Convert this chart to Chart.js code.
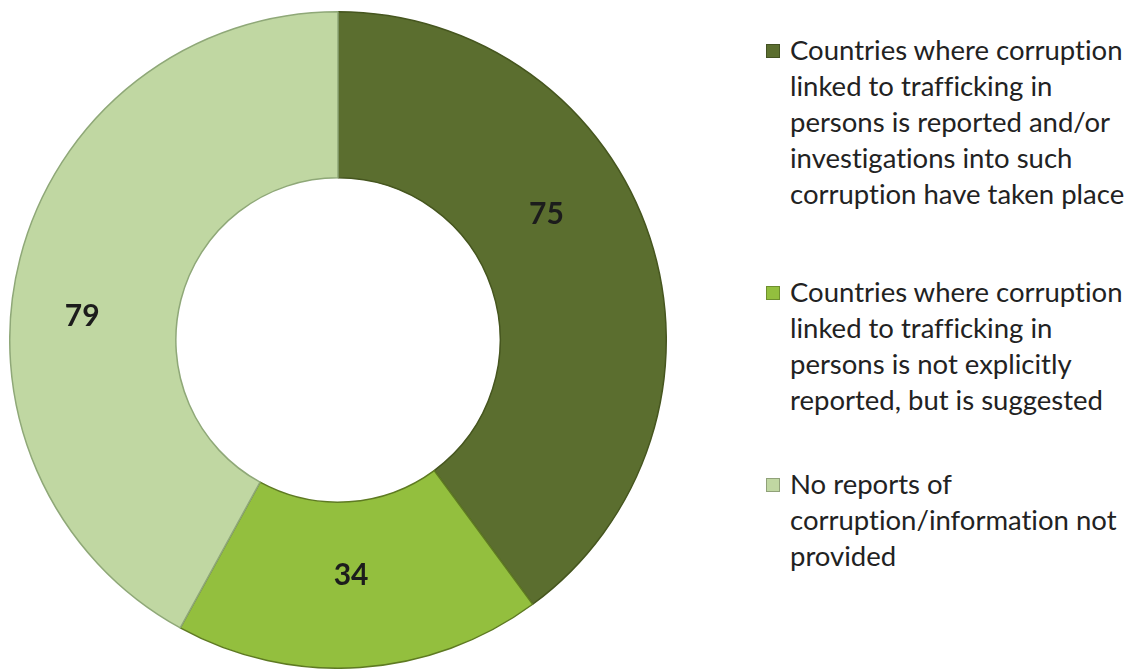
<!DOCTYPE html>
<html>
<head>
<meta charset="utf-8">
<script src="https://cdn.jsdelivr.net/npm/chart.js@4.4.1/dist/chart.umd.min.js"></script>
<style>
  html, body { margin: 0; padding: 0; background: #ffffff; }
  body { width: 1128px; height: 671px; position: relative; overflow: hidden; }
  #wrap { position: absolute; left: 9px; top: 11px; width: 658px; height: 658px; }
  #legend { position: absolute; left: 766px; top: 0; width: 362px; font-family: Lato, "Noto Sans", sans-serif; font-size: 27.5px; color: #222; font-variant-ligatures: none; }
  .item { position: absolute; left: 0; width: 362px; }
  .box { position: absolute; left: 0; width: 14px; height: 14px; box-sizing: border-box; border: 1px solid rgba(0,0,0,0.25); }
  .txt { position: absolute; left: 24px; white-space: pre; line-height: 36px; }
</style>
</head>
<body>
<div id="wrap"><canvas id="c"></canvas></div>
<div id="legend"></div>
<script>
const categories = [
  "Countries where corruption\nlinked to trafficking in\npersons is reported and/or\ninvestigations into such\ncorruption have taken place",
  "Countries where corruption\nlinked to trafficking in\npersons is not explicitly\nreported, but is suggested",
  "No reports of\ncorruption/information not\nprovided"
];
const values = [75, 34, 79];
const colors = ["#5b6e2f", "#93bf3e", "#c0d7a2"];
const borders = ["#46561f", "#5e7a22", "#8fa878"];

// label placement within each arc (fraction of angle span, fraction of ring thickness)
const labelAngleFrac = [0.41, 0.51, 0.44];
const labelRadiusFrac = [0.49, 0.44, 0.57];

const labelPlugin = {
  id: 'arcLabels',
  afterDatasetsDraw(chart) {
    const ctx = chart.ctx;
    const meta = chart.getDatasetMeta(0);
    ctx.save();
    ctx.font = 'bold 30px Lato, "Noto Sans", sans-serif';
    ctx.fillStyle = '#1c1c1c';
    ctx.textAlign = 'center';
    ctx.textBaseline = 'middle';
    meta.data.forEach((arc, i) => {
      const p = arc.getProps(['x','y','startAngle','endAngle','innerRadius','outerRadius'], true);
      const a = p.startAngle + (p.endAngle - p.startAngle) * labelAngleFrac[i];
      const r = p.innerRadius + (p.outerRadius - p.innerRadius) * labelRadiusFrac[i];
      ctx.fillText(String(values[i]), p.x + Math.cos(a) * r, p.y + Math.sin(a) * r);
    });
    ctx.restore();
  }
};

new Chart(document.getElementById('c'), {
  type: 'doughnut',
  data: {
    labels: categories,
    datasets: [{
      data: values,
      backgroundColor: colors,
      borderColor: borders,
      borderWidth: 1.5,
      borderAlign: 'center'
    }]
  },
  options: {
    responsive: true,
    maintainAspectRatio: false,
    animation: false,
    cutout: '49.4%',
    rotation: 0,
    plugins: {
      legend: { display: false },
      tooltip: { enabled: false }
    }
  },
  plugins: [labelPlugin]
});

// HTML legend built from the arrays
const legendTops = [32, 274, 466];
const legend = document.getElementById('legend');
categories.forEach((c, i) => {
  const item = document.createElement('div');
  item.className = 'item';
  item.style.top = legendTops[i] + 'px';
  const box = document.createElement('div');
  box.className = 'box';
  box.style.top = '12px';
  box.style.background = colors[i];
  const t = document.createElement('div');
  t.className = 'txt';
  t.textContent = c;
  item.appendChild(box);
  item.appendChild(t);
  legend.appendChild(item);
});
</script>
</body>
</html>
